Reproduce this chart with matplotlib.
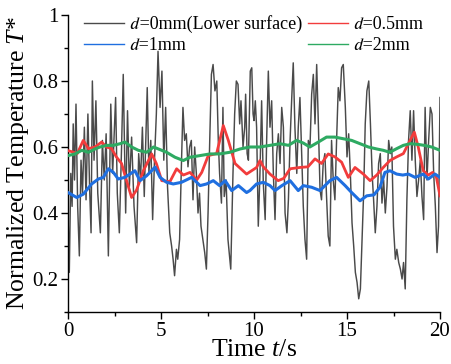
import matplotlib
matplotlib.use("Agg")
import matplotlib.pyplot as plt
from matplotlib.ticker import MultipleLocator, FormatStrFormatter
from matplotlib.lines import Line2D

# ---- data ----
black_t = [0.00, 0.07, 0.15, 0.22, 0.28, 0.35, 0.43, 0.52, 0.61, 0.70, 0.78, 0.88, 0.97, 1.07, 1.16, 1.24,
           1.31, 1.40, 1.50, 1.60, 1.74, 1.85, 1.95, 2.05, 2.17, 2.30, 2.40, 2.56, 2.65, 2.76, 2.88, 2.97,
           3.10, 3.20, 3.30, 3.42, 3.55, 3.69, 3.80, 3.90, 4.00, 4.10, 4.26, 4.35, 4.45, 4.55, 4.65, 4.75,
           4.84, 4.95, 5.05, 5.15, 5.25, 5.35, 5.47, 5.57, 5.65, 5.73, 5.83, 5.90, 6.00, 6.10, 6.18, 6.27,
           6.36, 6.45, 6.54, 6.63, 6.72, 6.81, 6.90, 6.99, 7.07, 7.15, 7.35, 7.44, 7.53, 7.62, 7.71, 7.80,
           7.90, 8.00, 8.08, 8.15, 8.25, 8.33, 8.40, 8.50, 8.60, 8.75, 8.87, 8.96, 9.05, 9.14, 9.23, 9.30,
           9.41, 9.50, 9.55, 9.63, 9.70, 9.80, 9.88, 9.95, 10.00, 10.07, 10.14, 10.23, 10.32, 10.41, 10.50,
           10.60, 10.68, 10.77, 10.86, 10.95, 11.04, 11.13, 11.22, 11.31, 11.40, 11.49, 11.58, 11.67, 11.77,
           11.85, 11.94, 12.03, 12.11, 12.20, 12.30, 12.38, 12.47, 12.56, 12.65, 12.74, 12.83, 12.92, 13.01,
           13.10, 13.19, 13.28, 13.37, 13.46, 13.55, 13.63, 13.72, 13.81, 13.90, 13.99, 14.08, 14.17, 14.26,
           14.35, 14.44, 14.53, 14.62, 14.71, 14.80, 14.91, 15.00, 15.09, 15.18, 15.27, 15.36, 15.45, 15.54,
           15.63, 15.72, 15.81, 15.90, 15.98, 16.07, 16.17, 16.26, 16.35, 16.43, 16.52, 16.61, 16.70, 16.79,
           16.88, 16.97, 17.06, 17.15, 17.24, 17.33, 17.41, 17.50, 17.60, 17.68, 17.78, 17.87, 17.96, 18.04,
           18.13, 18.22, 18.31, 18.40, 18.49, 18.58, 18.67, 18.76, 18.85, 18.94, 19.03, 19.12, 19.20, 19.30,
           19.39, 19.48, 19.57, 19.66, 19.75, 19.84, 19.92, 20.00]
black_T = [0.40, 0.22, 0.52, 0.42, 0.67, 0.50, 0.73, 0.42, 0.27, 0.56, 0.46, 0.66, 0.44, 0.70, 0.48, 0.34,
           0.80, 0.56, 0.74, 0.46, 0.34, 0.62, 0.50, 0.64, 0.27, 0.73, 0.52, 0.75, 0.46, 0.34, 0.60, 0.82,
           0.40, 0.71, 0.48, 0.63, 0.42, 0.31, 0.58, 0.50, 0.66, 0.45, 0.78, 0.52, 0.62, 0.38, 0.56, 0.70,
           0.89, 0.72, 0.83, 0.56, 0.72, 0.48, 0.34, 0.30, 0.26, 0.21, 0.29, 0.26, 0.32, 0.55, 0.72, 0.62,
           0.64, 0.54, 0.60, 0.62, 0.44, 0.60, 0.52, 0.40, 0.46, 0.36, 0.28, 0.23, 0.40, 0.62, 0.82, 0.85,
           0.77, 0.80, 0.62, 0.52, 0.43, 0.72, 0.45, 0.50, 0.32, 0.23, 0.52, 0.70, 0.80, 0.79, 0.67, 0.74,
           0.60, 0.66, 0.76, 0.58, 0.56, 0.83, 0.84, 0.70, 0.68, 0.74, 0.66, 0.36, 0.52, 0.74, 0.49,
           0.38, 0.62, 0.83, 0.66, 0.74, 0.52, 0.38, 0.58, 0.64, 0.55, 0.72, 0.66, 0.40, 0.34,
           0.44, 0.62, 0.75, 0.855, 0.66, 0.52, 0.66, 0.75, 0.59, 0.42, 0.32, 0.26, 0.62, 0.60,
           0.76, 0.82, 0.67, 0.85, 0.67, 0.47, 0.44, 0.55, 0.58, 0.45, 0.33, 0.30, 0.62, 0.50,
           0.44, 0.62, 0.78, 0.74, 0.84, 0.85, 0.72, 0.57, 0.64, 0.52, 0.37, 0.30, 0.22, 0.19,
           0.14, 0.17, 0.32, 0.47, 0.67, 0.77, 0.80, 0.67, 0.52, 0.44, 0.34, 0.42, 0.55, 0.58,
           0.43, 0.50, 0.40, 0.48, 0.62, 0.58, 0.60, 0.36, 0.26, 0.29, 0.25, 0.23, 0.20, 0.25,
           0.17, 0.44, 0.62, 0.71, 0.56, 0.71, 0.56, 0.45, 0.50, 0.56, 0.45, 0.38, 0.72, 0.50,
           0.62, 0.72, 0.70, 0.52, 0.42, 0.28, 0.36, 0.75]

red_t = [0.00, 0.25, 0.50, 0.82, 1.10, 1.45, 1.81, 2.06, 2.34, 2.60, 2.88, 3.15, 3.42, 3.69, 4.05, 4.50,
         4.75, 5.04, 5.48, 5.84, 6.20, 6.56, 6.92, 7.19, 7.54, 7.99, 8.35, 8.62, 8.98, 9.60, 10.14, 10.32,
         10.50, 10.86, 11.30, 11.60, 11.94, 12.47, 12.90, 13.28, 13.63, 13.99, 14.35, 14.71, 15.07, 15.43,
         15.88, 16.24, 16.60, 16.95, 17.31, 17.67, 18.03, 18.39, 18.62, 18.83, 19.10, 19.37, 19.60, 19.80, 20.00]
red_T = [0.589, 0.585, 0.580, 0.620, 0.595, 0.600, 0.615, 0.600, 0.595, 0.570, 0.550, 0.498, 0.447, 0.470,
         0.528, 0.579, 0.550, 0.498, 0.495, 0.534, 0.515, 0.523, 0.500, 0.523, 0.574, 0.580, 0.665, 0.620,
         0.550, 0.518, 0.538, 0.559, 0.540, 0.518, 0.498, 0.505, 0.534, 0.538, 0.540, 0.564, 0.550, 0.579,
         0.570, 0.554, 0.508, 0.538, 0.518, 0.498, 0.515, 0.538, 0.559, 0.570, 0.580, 0.620, 0.645, 0.600,
         0.528, 0.515, 0.523, 0.510, 0.452]

blue_t = [0.00, 0.47, 0.82, 1.27, 1.63, 1.90, 2.17, 2.44, 2.70, 3.06, 3.60, 3.87, 4.23, 4.68, 4.95, 5.30,
          5.66, 6.10, 6.65, 7.10, 7.45, 7.81, 8.15, 8.45, 8.80, 9.16, 9.60, 9.78, 10.14, 10.50, 10.86, 11.13,
          11.50, 11.94, 12.38, 12.65, 13.10, 13.55, 14.08, 14.44, 14.90, 15.25, 15.70, 16.06, 16.45, 16.77,
          17.04, 17.31, 17.67, 18.00, 18.30, 18.66, 19.10, 19.37, 19.73, 20.00]
blue_T = [0.462, 0.447, 0.457, 0.488, 0.503, 0.508, 0.534, 0.523, 0.503, 0.508, 0.528, 0.498, 0.513, 0.539,
          0.508, 0.493, 0.488, 0.493, 0.508, 0.483, 0.488, 0.498, 0.483, 0.498, 0.468, 0.483, 0.462, 0.468,
          0.488, 0.493, 0.483, 0.468, 0.483, 0.498, 0.468, 0.483, 0.478, 0.468, 0.498, 0.508, 0.483, 0.462,
          0.437, 0.452, 0.455, 0.478, 0.523, 0.528, 0.518, 0.515, 0.518, 0.508, 0.518, 0.503, 0.518, 0.508]

green_t = [0.00, 0.38, 0.74, 1.10, 1.45, 1.72, 2.08, 2.44, 2.80, 3.06, 3.42, 3.78, 4.23, 4.60, 4.95, 5.30,
           5.75, 6.20, 6.56, 7.10, 7.63, 8.15, 8.70, 9.25, 9.78, 10.32, 10.86, 11.40, 11.85, 12.29, 12.65,
           13.00, 13.46, 13.90, 14.35, 14.80, 15.25, 15.70, 16.15, 16.60, 16.95, 17.30, 17.67, 18.03, 18.40,
           18.80, 19.15, 19.55, 20.00]
green_T = [0.574, 0.579, 0.590, 0.584, 0.594, 0.600, 0.605, 0.605, 0.610, 0.615, 0.600, 0.590, 0.584, 0.600,
           0.592, 0.584, 0.569, 0.559, 0.569, 0.574, 0.579, 0.579, 0.584, 0.594, 0.600, 0.600, 0.605, 0.610,
           0.605, 0.620, 0.612, 0.600, 0.615, 0.630, 0.630, 0.625, 0.620, 0.610, 0.600, 0.594, 0.590, 0.584,
           0.595, 0.605, 0.610, 0.608, 0.605, 0.600, 0.590]

labels = ["=0mm(Lower surface)", "=0.5mm", "=1mm", "=2mm"]
colors = ['#4a4a4a', '#f23c3c', '#1f6fe0', '#2eaa62']

# ---- style ----
plt.rcParams['font.family'] = ['Liberation Serif', 'STIXGeneral', 'DejaVu Serif']
plt.rcParams['mathtext.fontset'] = 'custom'
plt.rcParams['mathtext.rm'] = 'Liberation Serif'
plt.rcParams['mathtext.it'] = 'Liberation Serif:italic'

fig = plt.figure(figsize=(4.51, 3.64), dpi=100)
ax = fig.add_axes([68/451, 1-312/364, (440-68)/451, (312-15)/364])

ax.plot(black_t, black_T, color=colors[0], lw=1.05, zorder=2)
ax.plot(red_t, red_T, color=colors[1], lw=2.0, zorder=3)
ax.plot(blue_t, blue_T, color=colors[2], lw=2.2, zorder=4)
ax.plot(green_t, green_T, color=colors[3], lw=2.2, zorder=3)

handles = [Line2D([], [], color=c, lw=1.0) for c in colors]
dchar = '\U0001D451'  # mathematical italic small d
leg_labels = [dchar + s for s in labels]
order = [0, 2, 1, 3]
leg = ax.legend([handles[i] for i in order], [leg_labels[i] for i in order], ncol=2,
                loc='upper left', bbox_to_anchor=(0.044, 1.0), frameon=False,
                fontsize=13, handlelength=2.2, handletextpad=0.3, columnspacing=0.35,
                labelspacing=0.25, borderpad=0.0, borderaxespad=0.0)

ax.set_xlim(0, 20)
ax.set_ylim(0.1, 1.0)
ax.xaxis.set_major_locator(MultipleLocator(5))
ax.xaxis.set_minor_locator(MultipleLocator(2.5))
ax.set_yticks([0.2, 0.4, 0.6, 0.8, 1.0])
ax.yaxis.set_minor_locator(MultipleLocator(0.1))
ax.yaxis.set_major_formatter(FormatStrFormatter('%g'))
ax.spines['top'].set_visible(False)
ax.spines['right'].set_visible(False)
for s in ['left', 'bottom']:
    ax.spines[s].set_linewidth(1.0)
ax.tick_params(which='major', direction='out', length=5, width=1, labelsize=15, pad=2)
ax.tick_params(which='minor', direction='out', length=3, width=1)

ax.set_xlabel(r'Time $t$/s', fontsize=18.5, labelpad=-1)
ax.set_ylabel(r'Normalized Temperature $T$*', fontsize=18.5, labelpad=0.5)

fig.savefig('out.png', dpi=100)
